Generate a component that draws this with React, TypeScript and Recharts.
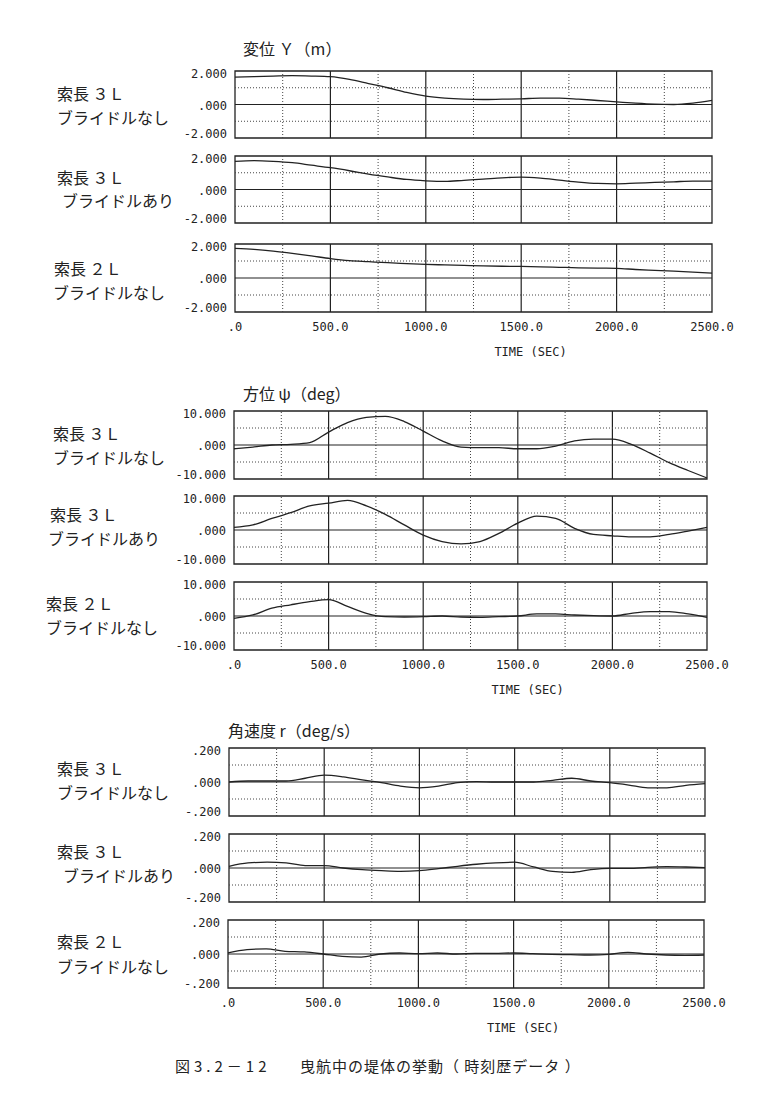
import { LineChart, Line, XAxis, YAxis, ReferenceLine, ReferenceArea, Label } from 'recharts';

// sample times (sec)
const times = [0, 100, 200, 300, 400, 500, 600, 700, 800, 900, 1000, 1100, 1200, 1300, 1400, 1500, 1600, 1700, 1800, 1900, 2000, 2100, 2200, 2300, 2400, 2500];
const xTicks = [0, 500, 1000, 1500, 2000, 2500];
const solidX = [500, 1000, 1500, 2000];
const dottedX = [250, 750, 1250, 1750, 2250];

// 変位 Y (m)
const yDisp3LNone = [1.64, 1.66, 1.7, 1.72, 1.7, 1.66, 1.5, 1.25, 1.0, 0.72, 0.5, 0.38, 0.32, 0.3, 0.32, 0.34, 0.38, 0.38, 0.32, 0.24, 0.16, 0.08, 0.02, 0.0, 0.08, 0.24];
const yDisp3LBridle = [1.68, 1.72, 1.68, 1.6, 1.45, 1.3, 1.12, 0.92, 0.75, 0.6, 0.52, 0.48, 0.55, 0.62, 0.7, 0.74, 0.68, 0.56, 0.44, 0.36, 0.34, 0.38, 0.42, 0.46, 0.5, 0.5];
const yDisp2LNone = [1.74, 1.68, 1.58, 1.45, 1.3, 1.14, 1.02, 0.96, 0.9, 0.85, 0.8, 0.77, 0.74, 0.71, 0.69, 0.68, 0.66, 0.63, 0.6, 0.58, 0.57, 0.5, 0.45, 0.4, 0.34, 0.29];

// 方位 ψ (deg)
const psi3LNone = [-1.1, -0.6, 0.0, 0.2, 0.7, 3.8, 6.6, 8.1, 8.4, 6.9, 4.1, 1.2, -0.6, -0.8, -0.8, -1.1, -1.1, -0.3, 1.2, 1.7, 1.7, 0.2, -2.4, -5.2, -7.5, -9.7];
const psi3LBridle = [0.8, 1.5, 3.4, 5.1, 7.1, 7.9, 8.7, 7.1, 4.6, 1.5, -1.5, -3.4, -4.1, -3.4, -1.0, 2.0, 4.1, 3.4, 0.5, -1.3, -1.7, -2.0, -2.0, -1.3, -0.3, 0.8];
const psi2LNone = [-0.7, 0.3, 2.3, 3.3, 4.2, 4.8, 2.8, 0.8, -0.2, -0.3, -0.2, 0.0, -0.3, -0.4, -0.2, 0.0, 0.6, 0.6, 0.3, 0.1, 0.0, 0.8, 1.3, 1.3, 0.6, -0.4];

// 角速度 r (deg/s)
const r3LNone = [0.0, 0.006, 0.006, 0.006, 0.022, 0.04, 0.03, 0.012, -0.004, -0.024, -0.034, -0.024, -0.004, 0.002, 0.0, 0.0, 0.0, 0.01, 0.022, 0.006, -0.004, -0.018, -0.034, -0.034, -0.02, -0.01];
const r3LBridle = [0.01, 0.03, 0.034, 0.03, 0.014, 0.014, 0.0, -0.01, -0.016, -0.02, -0.016, -0.004, 0.01, 0.022, 0.03, 0.034, 0.006, -0.02, -0.026, -0.01, -0.002, -0.002, 0.004, 0.008, 0.006, 0.002];
const r2LNone = [0.006, 0.026, 0.03, 0.016, 0.012, 0.0, -0.014, -0.018, 0.0, 0.006, 0.002, 0.006, 0.0, 0.004, 0.004, 0.006, 0.002, -0.002, -0.004, -0.006, -0.002, 0.01, 0.0, -0.006, -0.008, -0.006];

const MONO = '"DejaVu Sans Mono", "Liberation Mono", monospace';
const JP = '"Noto Sans CJK JP", "Noto Sans", sans-serif';
const INK = '#222';

const fmtY = (v: number) => v.toFixed(3).replace(/^(-?)0\./, '$1.');
const fmtX = (v: number) => (v === 0 ? '.0' : v.toFixed(1));

interface PanelProps {
  left: number;
  top: number;
  width: number;
  height: number;
  values: number[];
  max: number;
  showX?: boolean;
}

function Panel({ left, top, width, height, values, max, showX }: PanelProps) {
  const data = times.map((t, i) => ({ t, v: values[i] }));
  const yAxisW = 70;
  const xAxisH = showX ? 44 : 0;
  const mt = 10, mr = 30, mb = 10;

  // labels at the box edges sit a little inside, as on the plotter output
  const yTick = (p: any) => {
    const v = p.payload.value;
    const dy = v === max ? 3 : v === -max ? -4 : 1;
    return (
      <text x={p.x} y={p.y + dy} textAnchor="end" dominantBaseline="central" fontFamily={MONO} fontSize={12} fill={INK}>
        {fmtY(v)}
      </text>
    );
  };

  return (
    <div style={{ position: 'absolute', left: left - yAxisW, top: top - mt }}>
      <LineChart
        width={width + yAxisW + mr}
        height={height + mt + mb + xAxisH}
        data={data}
        margin={{ top: mt, right: mr, bottom: mb, left: 0 }}
      >
        <XAxis
          type="number"
          dataKey="t"
          domain={[0, 2500]}
          ticks={xTicks}
          tickFormatter={fmtX}
          hide={!showX}
          height={xAxisH}
          axisLine={false}
          tickLine={false}
          tickMargin={4}
          tick={{ fontFamily: MONO, fontSize: 12, fill: INK }}
          interval={0}
        >
          {showX && (
            <Label value="TIME (SEC)" position="insideBottom" offset={0} dx={57} style={{ fontFamily: MONO, fontSize: 12, fill: INK }} />
          )}
        </XAxis>
        <YAxis
          type="number"
          domain={[-max, max]}
          ticks={[-max, 0, max]}
          width={yAxisW}
          axisLine={false}
          tickLine={false}
          tick={yTick}
          interval={0}
        />
        {dottedX.map((x) => (
          <ReferenceLine key={'d' + x} x={x} stroke="#444" strokeDasharray="1 2" />
        ))}
        {solidX.map((x) => (
          <ReferenceLine key={'s' + x} x={x} stroke={INK} strokeWidth={1.2} />
        ))}
        <ReferenceLine y={max / 2} stroke="#444" strokeDasharray="1 2" />
        <ReferenceLine y={-max / 2} stroke="#444" strokeDasharray="1 2" />
        <ReferenceLine y={0} stroke={INK} strokeWidth={1.2} />
        <ReferenceArea x1={0} x2={2500} y1={-max} y2={max} fill="none" fillOpacity={0} stroke={INK} strokeWidth={1.3} />
        <Line type="monotone" dataKey="v" stroke={INK} strokeWidth={1.3} dot={false} isAnimationActive={false} />
      </LineChart>
    </div>
  );
}

function Txt({ x, y, size = 16, spacing = 0, children }: { x: number; y: number; size?: number; spacing?: number; children: string }) {
  return (
    <div
      style={{
        position: 'absolute',
        left: x,
        top: y - 11,
        fontFamily: JP,
        fontSize: size,
        lineHeight: '22px',
        letterSpacing: spacing,
        color: INK,
        whiteSpace: 'pre',
      }}
    >
      {children}
    </div>
  );
}

export default function App() {
  return (
    <div style={{ position: 'absolute', left: 0, top: 0, width: 767, height: 1097, background: '#fff', overflow: 'hidden' }}>
      {/* 変位 Y */}
      <Txt x={243} y={48}>変位 Ｙ（m）</Txt>
      <Panel left={235} top={71} width={477} height={67} values={yDisp3LNone} max={2} />
      <Panel left={235} top={156} width={477} height={67} values={yDisp3LBridle} max={2} />
      <Panel left={235} top={244} width={477} height={68} values={yDisp2LNone} max={2} showX />
      <Txt x={57} y={93}>索長 ３Ｌ</Txt>
      <Txt x={57} y={117}>ブライドルなし</Txt>
      <Txt x={57} y={177}>索長 ３Ｌ</Txt>
      <Txt x={62} y={200}>ブライドルあり</Txt>
      <Txt x={54} y={268}>索長 ２Ｌ</Txt>
      <Txt x={53} y={292}>ブライドルなし</Txt>

      {/* 方位 ψ */}
      <Txt x={243} y={393}>方位 ψ（deg）</Txt>
      <Panel left={234} top={411} width={473} height={68} values={psi3LNone} max={10} />
      <Panel left={234} top={496} width={473} height={68} values={psi3LBridle} max={10} />
      <Panel left={234} top={582} width={473} height={68} values={psi2LNone} max={10} showX />
      <Txt x={53} y={433}>索長 ３Ｌ</Txt>
      <Txt x={53} y={457}>ブライドルなし</Txt>
      <Txt x={50} y={514}>索長 ３Ｌ</Txt>
      <Txt x={48} y={538}>ブライドルあり</Txt>
      <Txt x={46} y={603}>索長 ２Ｌ</Txt>
      <Txt x={46} y={627}>ブライドルなし</Txt>

      {/* 角速度 r */}
      <Txt x={228} y={730}>角速度 r（deg/s）</Txt>
      <Panel left={229} top={748} width={476} height={68} values={r3LNone} max={0.2} />
      <Panel left={229} top={834} width={476} height={68} values={r3LBridle} max={0.2} />
      <Panel left={228} top={920} width={476} height={68} values={r2LNone} max={0.2} showX />
      <Txt x={57} y={768}>索長 ３Ｌ</Txt>
      <Txt x={57} y={792}>ブライドルなし</Txt>
      <Txt x={57} y={851}>索長 ３Ｌ</Txt>
      <Txt x={63} y={875}>ブライドルあり</Txt>
      <Txt x={57} y={941}>索長 ２Ｌ</Txt>
      <Txt x={57} y={966}>ブライドルなし</Txt>

      <Txt x={175} y={1066} size={15} spacing={4}>図3.2－12</Txt>
      <Txt x={300} y={1066} size={15} spacing={1}>曳航中の堤体の挙動（ 時刻歴データ ）</Txt>
    </div>
  );
}
